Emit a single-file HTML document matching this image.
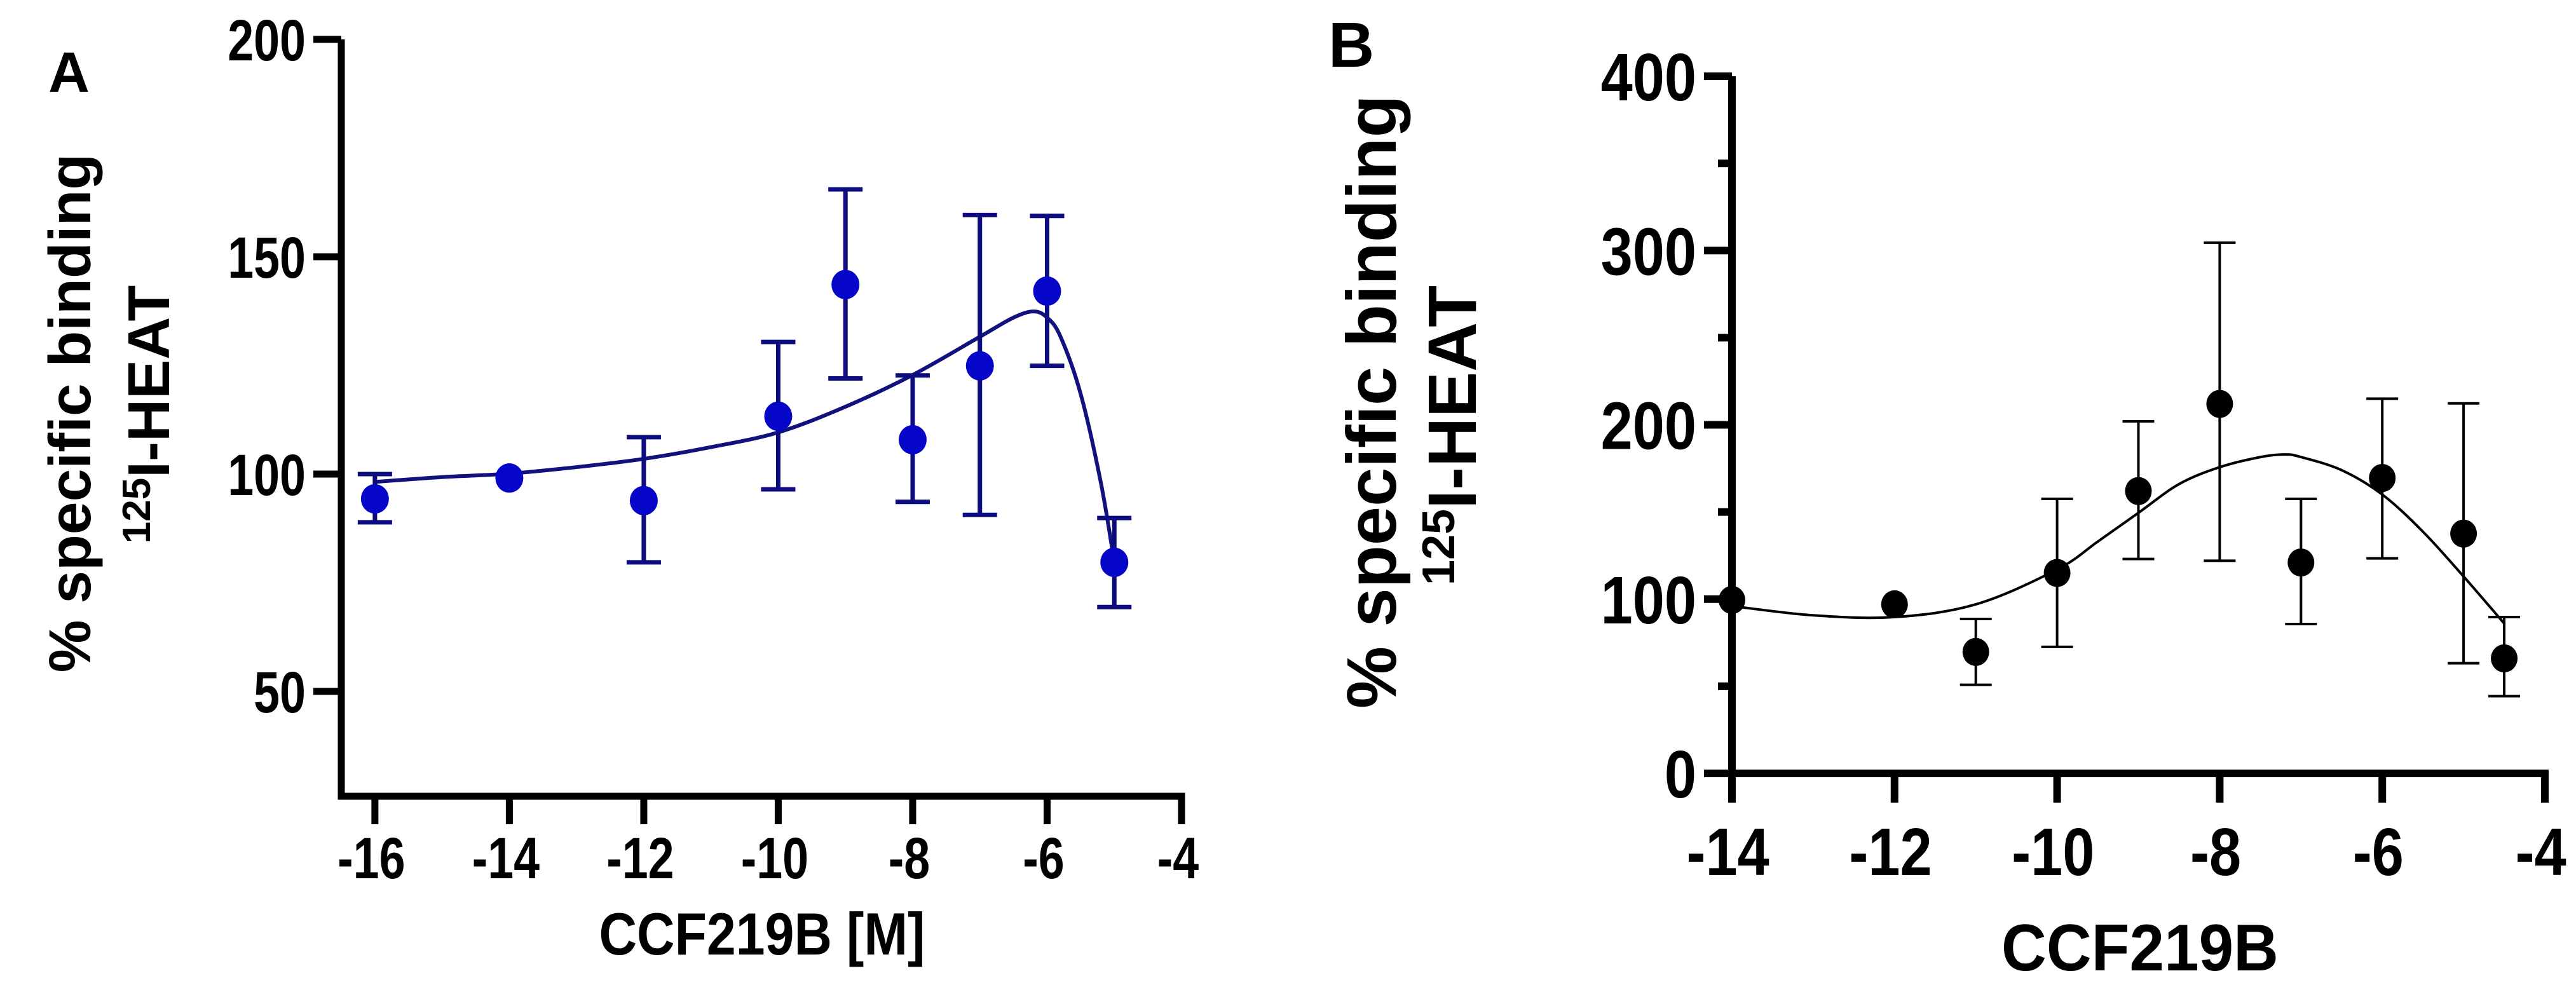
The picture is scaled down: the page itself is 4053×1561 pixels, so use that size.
<!DOCTYPE html>
<html><head><meta charset="utf-8"><style>
html,body{margin:0;padding:0;background:#fff;}
svg{display:block;font-family:"Liberation Sans",Arial,sans-serif;font-weight:bold;}
</style></head><body>
<svg id="fig" width="4053" height="1561" viewBox="0 0 4053 1561" xmlns="http://www.w3.org/2000/svg">
<rect width="4053" height="1561" fill="#fff"/>
<g id="panelA"></g>
<g id="panelB"></g>
</svg>
<script>
// Panel A data
const aX = [-16, -14, -12, -10, -9, -8, -7, -6, -5];
const aY = [94.3, 99.1, 93.9, 113.3, 143.6, 107.9, 124.9, 142.1, 79.7];
const aHi = [100, 99.1, 108.5, 130.4, 165.5, 122.7, 159.6, 159.4, 89.9];
const aLo = [88.9, 99.1, 79.7, 96.5, 122, 93.6, 90.6, 124.9, 69.4];
const aCurveX = [-16, -15, -14, -13, -12, -11, -10, -9, -8, -7, -6.5, -6.2, -6, -5.8, -5.5, -5.2, -5];
const aCurveY = [98.2, 99.3, 100.1, 101.6, 103.5, 106.2, 109.6, 115.5, 122.8, 131.6, 136, 137.4, 136, 131.6, 118.4, 98, 79.7];
const aXTicks = [-16, -14, -12, -10, -8, -6, -4];
const aYTicks = [50, 100, 150, 200];
// Panel B data
const bX = [-14, -12, -11, -10, -9, -8, -7, -6, -5, -4.5];
const bY = [99.5, 97, 69.7, 115, 162, 212, 121, 169.5, 137.6, 66];
const bHi = [99.5, 97, 88.6, 157.5, 202, 304.5, 157.5, 215, 212.3, 89.7];
const bLo = [99.5, 97, 50.8, 72.6, 123, 122, 85.7, 123.4, 63.2, 44.3];
const bCurveX = [-14, -13, -12, -11, -10, -9.5, -9, -8.5, -8, -7.5, -7.2, -7, -6.5, -6, -5.5, -5, -4.5];
const bCurveY = [96, 90.7, 89.7, 97, 117, 133, 149.5, 166, 175.7, 181.5, 183, 181.5, 174, 160, 138.7, 113, 86];
const bXTicks = [-14, -12, -10, -8, -6, -4];
const bYTicks = [0, 100, 200, 300, 400];
const bYMinor = [50, 150, 250, 350];

const NS = "http://www.w3.org/2000/svg";
function mk(parent, tag, attrs, text) {
  const e = document.createElementNS(NS, tag);
  for (const k in attrs) e.setAttribute(k, attrs[k]);
  if (text !== undefined) e.textContent = text;
  parent.appendChild(e);
  return e;
}
function condense(el, f) {
  const w = el.getComputedTextLength();
  el.setAttribute("textLength", w * f);
  el.setAttribute("lengthAdjust", "spacingAndGlyphs");
}
function smoothPath(pts) {
  let d = "M" + pts[0][0] + "," + pts[0][1];
  for (let i = 0; i < pts.length - 1; i++) {
    const p0 = pts[Math.max(0, i - 1)], p1 = pts[i], p2 = pts[i + 1], p3 = pts[Math.min(pts.length - 1, i + 2)];
    const c1x = p1[0] + (p2[0] - p0[0]) / 6, c1y = p1[1] + (p2[1] - p0[1]) / 6;
    const c2x = p2[0] - (p3[0] - p1[0]) / 6, c2y = p2[1] - (p3[1] - p1[1]) / 6;
    d += " C" + c1x + "," + c1y + " " + c2x + "," + c2y + " " + p2[0] + "," + p2[1];
  }
  return d;
}

function drawPanel(g, cfg) {
  const sx = v => cfg.x0 + (v - cfg.xmin) * (cfg.x1 - cfg.x0) / (cfg.xmax - cfg.xmin);
  const sy = v => cfg.y0 + (v - cfg.ymin) * (cfg.y1 - cfg.y0) / (cfg.ymax - cfg.ymin);
  const axisY = cfg.axisBottom;
  const yax = mk(g, "line", {x1: cfg.x0, y1: sy(cfg.ymax), x2: cfg.x0, y2: axisY + cfg.aw / 2, stroke: "#000", "stroke-width": cfg.aw});
  
  
  const xax = mk(g, "line", {x1: cfg.xAxisStart, y1: axisY, x2: sx(cfg.xmax) + cfg.aw / 2, y2: axisY, stroke: "#000", "stroke-width": cfg.aw});
  
  
  cfg.yTicks.forEach(v => {
    const t = mk(g, "line", {x1: cfg.x0 - cfg.tickLen, y1: sy(v), x2: cfg.x0, y2: sy(v), stroke: "#000", "stroke-width": cfg.aw});
    
    
    const l = mk(g, "text", {x: cfg.x0 - cfg.tickLen - 12, y: sy(v) + cfg.fs * 0.36, "text-anchor": "end", "font-size": cfg.fs}, String(v));
    
    
    condense(l, cfg.cond);
  });
  (cfg.yMinor || []).forEach(v => {
    const t = mk(g, "line", {x1: cfg.x0 - cfg.tickLen / 2, y1: sy(v), x2: cfg.x0, y2: sy(v), stroke: "#000", "stroke-width": cfg.aw});
    
    
  });
  cfg.xTicks.forEach(v => {
    const t = mk(g, "line", {x1: sx(v), y1: axisY, x2: sx(v), y2: axisY + cfg.xTickLen, stroke: "#000", "stroke-width": cfg.aw});
    
    
    const l = mk(g, "text", {x: sx(v) - cfg.fs * 0.06, y: cfg.xLabelBase, "text-anchor": "middle", "font-size": cfg.fs}, String(v));
    
    
    condense(l, cfg.cond);
  });
  const pts = cfg.cx.map((v, i) => [sx(v), sy(cfg.cy[i])]);
  const c = mk(g, "path", {d: smoothPath(pts), fill: "none", stroke: cfg.lineColor, "stroke-width": cfg.lw});
  
  
  cfg.px.forEach((v, i) => {
    const X = sx(v);
    if (cfg.hi[i] !== cfg.lo[i]) {
      const eg = mk(g, "path", {d: "M" + X + "," + sy(cfg.hi[i]) + " V" + sy(cfg.lo[i]) +
        " M" + (X - cfg.cap) + "," + sy(cfg.hi[i]) + " H" + (X + cfg.cap) +
        " M" + (X - cfg.cap) + "," + sy(cfg.lo[i]) + " H" + (X + cfg.cap),
        fill: "none", stroke: cfg.errColor, "stroke-width": cfg.ew});
      
      
    }
    const d = mk(g, "ellipse", {cx: X, cy: sy(cfg.py[i]), rx: cfg.r, ry: cfg.r * 1.05, fill: cfg.dotColor});
    
    
  });
}

const gA = document.getElementById("panelA");
drawPanel(gA, {x0: 537, x1: 1859, xmin: -16.5, xmax: -4, y0: 1088, y1: 62, ymin: 50, ymax: 200,
  axisBottom: 1253, xAxisStart: 532, aw: 11, tickLen: 44, xTickLen: 44, fs: 92, cond: 0.8, xLabelBase: 1382,
  xTicks: aXTicks, yTicks: aYTicks, px: aX, py: aY, hi: aHi, lo: aLo, cx: aCurveX, cy: aCurveY,
  lineColor: "#12127e", errColor: "#0c0c80", dotColor: "#0606c8", lw: 6, ew: 7, cap: 27, r: 22});
const gB = document.getElementById("panelB");
drawPanel(gB, {x0: 2725, x1: 4004, xmin: -14, xmax: -4, y0: 1217, y1: 120, ymin: 0, ymax: 400,
  axisBottom: 1217, xAxisStart: 2681, aw: 12, tickLen: 44, xTickLen: 46, fs: 106, cond: 0.85, xLabelBase: 1377,
  xTicks: bXTicks, yTicks: bYTicks, yMinor: bYMinor, px: bX, py: bY, hi: bHi, lo: bLo, cx: bCurveX, cy: bCurveY,
  lineColor: "#000", errColor: "#000", dotColor: "#000", lw: 4, ew: 4, cap: 25, r: 21});
</script>
<svg style="position:absolute;left:0;top:0" width="4053" height="1561" viewBox="0 0 4053 1561" xmlns="http://www.w3.org/2000/svg" font-family="Liberation Sans, Arial, sans-serif" font-weight="bold">
  <text x="76" y="145" font-size="90">A</text>
  <text x="2090" y="105" font-size="100">B</text>
  <text transform="translate(142,650) rotate(-90)" text-anchor="middle" font-size="93">% specific binding</text>
  <text transform="translate(266,652) rotate(-90)" text-anchor="middle" font-size="93"><tspan font-size="62" dy="-30">125</tspan><tspan dy="30">I-HEAT</tspan></text>
  <text x="1199" y="1502" text-anchor="middle" font-size="94" textLength="513" lengthAdjust="spacingAndGlyphs">CCF219B [M]</text>
  <text transform="translate(2196,632) rotate(-90)" text-anchor="middle" font-size="110">% specific binding</text>
  <text transform="translate(2322,685) rotate(-90)" text-anchor="middle" font-size="108"><tspan font-size="72" dy="-34">125</tspan><tspan dy="34">I-HEAT</tspan></text>
  <text x="3367" y="1527" text-anchor="middle" font-size="104" textLength="436" lengthAdjust="spacingAndGlyphs">CCF219B</text>
</svg>
</body></html>
